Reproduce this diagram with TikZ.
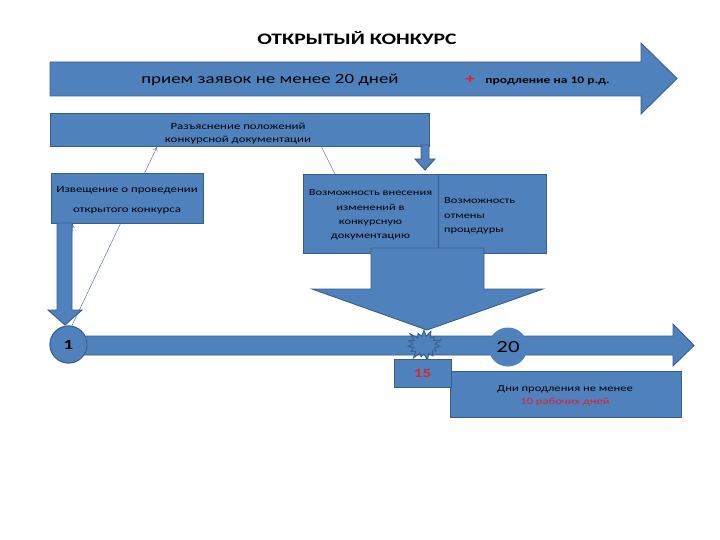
\documentclass[tikz,border=0pt]{standalone}
\usepackage{fontspec}
\setmainfont{Carlito}[FakeStretch=1.35]
\usetikzlibrary{arrows.meta, calc, shapes.symbols}
\definecolor{boxblue}{RGB}{79,129,189}
\definecolor{edgeblue}{RGB}{56,93,138}
\definecolor{numred}{RGB}{226,30,38}
\tikzset{
    blk/.style={fill=boxblue, draw=edgeblue, line width=0.9pt},
    rbox/.style={blk, inner sep=0pt},
    thinln/.style={draw=edgeblue!80!gray, line width=0.4pt},
    txt/.style={inner sep=0pt, align=center, font=\fontsize{9.5}{13}\selectfont},
}

\begin{document}
\begin{tikzpicture}[x=1pt, y=-1pt]
    \useasboundingbox (0,0) rectangle (720,540);

    % Title
    \node[font=\fontsize{16}{19}\selectfont\bfseries] (title) at (357,38) {ОТКРЫТЫЙ КОНКУРС};

    % Boxes (drawn later, named first for the thin lines)
    \path (127,198) node[rbox, minimum width=152pt, minimum height=50pt] (izv) {};
    \path (68.5,344.5) node[circle, rbox, minimum size=37pt] (one) {};

    % Thin lines behind the boxes
    \path (239.5,129.5) coordinate (razc);
    \coordinate (razin) at (157,147);
    \coordinate (razout) at (321,146);
    \coordinate (vnesin) at (335,174);
    \coordinate (izvin) at (72.5,224);
    \draw[thinln, -{To[length=4pt, width=5pt]}] (one.80) -- (razin);
    \draw[thinln, -{To[length=4pt, width=5pt]}] (one.95) -- (izvin);
    \draw[thinln] (razout) -- (vnesin);

    % Top arrow
    \draw[blk] (50,62) -- (641,62) -- (641,43) -- (677,78.5) -- (641,114) -- (641,96) -- (50,96) -- cycle;
    \node[inner sep=0pt, font=\fontsize{14}{16}\selectfont] (priem) at (270,80) {прием заявок не менее 20 дней};
    \node[inner sep=0pt, text=numred, font=\fontsize{14}{16}\selectfont\bfseries] (plus) at (470,80) {+};
    \node[inner sep=0pt, font=\fontsize{10}{12}\selectfont\bfseries] (prodl) at (547.5,81) {продление на 10 р.д.};

    % Explanation box
    \node[rbox, minimum width=379pt, minimum height=33pt] (raz) at (razc) {};
    \node[txt] (raztxt) at (238,133.5) {Разъяснение положений\\конкурсной документации};
    \draw[blk] (421,145) -- (429,145) -- (429,159) -- (435,159) -- (425,170) -- (415,159) -- (421,159) -- cycle;

    % Notice box and thick arrow to day 1
    \node[rbox, minimum width=152pt, minimum height=50pt] at (izv) {};
    \node[txt, font=\fontsize{9.5}{20}\selectfont] (izvtxt) at (127,200) {Извещение о проведении\\открытого конкурса};
    \draw[blk] (57,223) -- (72,223) -- (72,310) -- (82,310) -- (65,325) -- (48,310) -- (57,310) -- cycle;

    % Timeline
    \draw[blk] (68,336) -- (673,336) -- (673,324) -- (694,345.5) -- (673,366) -- (673,355) -- (68,355) -- cycle;
    \node[circle, rbox, minimum size=37pt, font=\fontsize{14}{16}\selectfont\bfseries] at (one) {1};

    % Changes / cancel boxes
    \node[rbox, minimum width=135pt, minimum height=79pt] (vnes) at (370.5,213.5) {};
    \node[rbox, minimum width=108pt, minimum height=79pt] (otm) at (492,213.5) {};
    \node[txt, font=\fontsize{9.2}{14.3}\selectfont] (vnestxt) at (370.5,215) {Возможность внесения\\изменений в\\конкурсную\\документацию};
    \node[txt, align=left, anchor=west, font=\fontsize{9.2}{14.5}\selectfont] (otmtxt) at (444,216) {Возможность\\отмены\\процедуры};

    % Big arrow down to day 15
    \draw[blk] (371,248) -- (484,248) -- (484,289) -- (543,289) -- (427,330) -- (312,289) -- (371,289) -- cycle;
    \node[starburst, blk, starburst points=15, starburst point height=8pt, minimum width=38pt, minimum height=34pt, inner sep=0pt] (burst) at (424,345) {};

    % Day 20
    \node[circle, fill=boxblue, minimum size=39pt, inner sep=0pt, font=\fontsize{17}{19}\selectfont] (twenty) at (508,347) {20};

    % Extension box and day 15
    \node[rbox, minimum width=231pt, minimum height=46pt] (dni) at (565.5,394) {};
    \node[txt, font=\fontsize{9.3}{13}\selectfont] (dnitxt) at (565,396) {Дни продления не менее\\\textcolor{numred}{10 рабочих дней}};
    \node[rbox, minimum width=57pt, minimum height=28pt, text=numred, font=\fontsize{12.5}{14}\selectfont\bfseries] (fifteen) at (422.5,373) {15};
\end{tikzpicture}
\end{document}
